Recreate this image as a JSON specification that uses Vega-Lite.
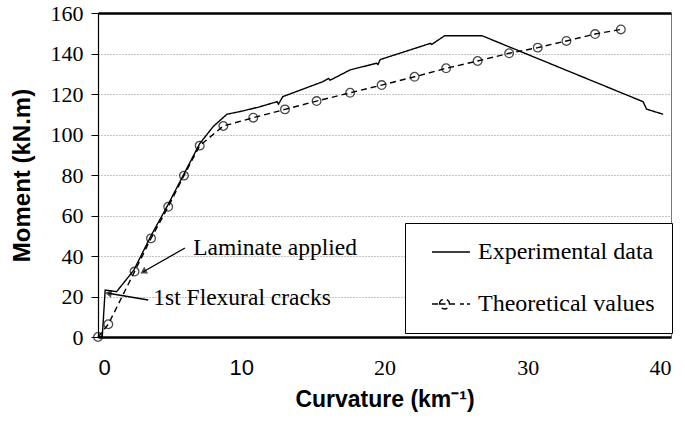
{
  "$schema": "https://vega.github.io/schema/vega-lite/v6.json",
  "width": 573,
  "height": 324,
  "autosize": "none",
  "padding": {"left": 98, "top": 13, "right": 14, "bottom": 91},
  "config": {
    "view": {"stroke": "#777", "strokeWidth": 1},
    "font": "Liberation Sans"
  },
  "datasets": {
    "curves": [
      {"series": "Experimental data", "i": 0, "curvature": 0, "moment": 0},
      {"series": "Experimental data", "i": 1, "curvature": 0.3, "moment": 0.5},
      {"series": "Experimental data", "i": 2, "curvature": 0.5, "moment": 23.2},
      {"series": "Experimental data", "i": 3, "curvature": 1.3, "moment": 22.4},
      {"series": "Experimental data", "i": 4, "curvature": 2.5, "moment": 33},
      {"series": "Experimental data", "i": 5, "curvature": 3.7, "moment": 50},
      {"series": "Experimental data", "i": 6, "curvature": 4.9, "moment": 65.5},
      {"series": "Experimental data", "i": 7, "curvature": 6.0, "moment": 80.5},
      {"series": "Experimental data", "i": 8, "curvature": 7.1, "moment": 95.5},
      {"series": "Experimental data", "i": 9, "curvature": 8.05, "moment": 104},
      {"series": "Experimental data", "i": 10, "curvature": 9.0, "moment": 110},
      {"series": "Experimental data", "i": 11, "curvature": 9.9, "moment": 111.3},
      {"series": "Experimental data", "i": 12, "curvature": 11.2, "moment": 113.5},
      {"series": "Experimental data", "i": 13, "curvature": 12.5, "moment": 116.2},
      {"series": "Experimental data", "i": 14, "curvature": 12.6, "moment": 115},
      {"series": "Experimental data", "i": 15, "curvature": 12.9, "moment": 118.7},
      {"series": "Experimental data", "i": 16, "curvature": 15.7, "moment": 126.1},
      {"series": "Experimental data", "i": 17, "curvature": 16.1, "moment": 127.7},
      {"series": "Experimental data", "i": 18, "curvature": 16.2, "moment": 126.8},
      {"series": "Experimental data", "i": 19, "curvature": 17.6, "moment": 131.9},
      {"series": "Experimental data", "i": 20, "curvature": 19.45, "moment": 135.2},
      {"series": "Experimental data", "i": 21, "curvature": 19.55, "moment": 134.6},
      {"series": "Experimental data", "i": 22, "curvature": 19.7, "moment": 137},
      {"series": "Experimental data", "i": 23, "curvature": 23.2, "moment": 145},
      {"series": "Experimental data", "i": 24, "curvature": 23.3, "moment": 144.5},
      {"series": "Experimental data", "i": 25, "curvature": 24.2, "moment": 148.8},
      {"series": "Experimental data", "i": 26, "curvature": 26.8, "moment": 148.8},
      {"series": "Experimental data", "i": 27, "curvature": 38.05, "moment": 116.2},
      {"series": "Experimental data", "i": 28, "curvature": 38.3, "moment": 112.5},
      {"series": "Experimental data", "i": 29, "curvature": 39.45, "moment": 110},
      {"series": "Theoretical values", "i": 0, "curvature": 0, "moment": 0},
      {"series": "Theoretical values", "i": 1, "curvature": 0.72, "moment": 6.3},
      {"series": "Theoretical values", "i": 2, "curvature": 2.55, "moment": 32.3},
      {"series": "Theoretical values", "i": 3, "curvature": 3.7, "moment": 48.7},
      {"series": "Theoretical values", "i": 4, "curvature": 4.9, "moment": 64.3},
      {"series": "Theoretical values", "i": 5, "curvature": 6.0, "moment": 79.7},
      {"series": "Theoretical values", "i": 6, "curvature": 7.1, "moment": 94.5},
      {"series": "Theoretical values", "i": 7, "curvature": 8.75, "moment": 104.2},
      {"series": "Theoretical values", "i": 8, "curvature": 10.84, "moment": 108.3},
      {"series": "Theoretical values", "i": 9, "curvature": 13.05, "moment": 112.4},
      {"series": "Theoretical values", "i": 10, "curvature": 15.26, "moment": 116.5},
      {"series": "Theoretical values", "i": 11, "curvature": 17.6, "moment": 120.6},
      {"series": "Theoretical values", "i": 12, "curvature": 19.8, "moment": 124.4},
      {"series": "Theoretical values", "i": 13, "curvature": 22.1, "moment": 128.5},
      {"series": "Theoretical values", "i": 14, "curvature": 24.3, "moment": 132.7},
      {"series": "Theoretical values", "i": 15, "curvature": 26.5, "moment": 136.3},
      {"series": "Theoretical values", "i": 16, "curvature": 28.7, "moment": 140.1},
      {"series": "Theoretical values", "i": 17, "curvature": 30.7, "moment": 142.9},
      {"series": "Theoretical values", "i": 18, "curvature": 32.7, "moment": 146.2},
      {"series": "Theoretical values", "i": 19, "curvature": 34.7, "moment": 149.6},
      {"series": "Theoretical values", "i": 20, "curvature": 36.5, "moment": 151.9}
    ],
    "arrows": [
      {"label": "laminate", "x1": 6.07, "y1": 43.95, "x2": 3.16, "y2": 32.2},
      {"label": "cracks", "x1": 3.51, "y1": 18.27, "x2": 0.72, "y2": 21.6}
    ],
    "notes": [
      {"text": "Laminate applied", "curvature": 6.65, "moment": 43.8},
      {"text": "1st Flexural cracks", "curvature": 3.86, "moment": 19.1}
    ]
  },
  "layer": [
    {
      "data": {"name": "curves"},
      "mark": {"type": "line", "color": "black", "strokeWidth": 1.4},
      "encoding": {
        "x": {
          "field": "curvature", "type": "quantitative",
          "scale": {"domain": [0, 40], "nice": false, "zero": false},
          "axis": {
            "values": [0, 10, 20, 30, 40],
            "grid": false,
            "ticks": false,
            "domainColor": "black",
            "domainWidth": 2.5,
            "labelFont": {"expr": "datum.value >= 20 ? 'Liberation Serif' : 'Liberation Sans'"},
            "labelFontSize": 22,
            "labelColor": "black",
            "labelPadding": 20,
            "title": "Curvature (km⁻¹)",
            "titleFont": "Liberation Sans",
            "titleFontSize": 23,
            "titleFontWeight": "bold",
            "titleColor": "black",
            "titlePadding": 10
          }
        },
        "y": {
          "field": "moment", "type": "quantitative",
          "scale": {"domain": [0, 160], "nice": false},
          "axis": {
            "values": [0, 20, 40, 60, 80, 100, 120, 140, 160],
            "grid": true,
            "gridColor": {"condition": {"test": "datum.value === 160", "value": "black"}, "value": "#888"},
            "gridWidth": {"condition": {"test": "datum.value === 160", "value": 2.5}, "value": 1},
            "gridDash": {"condition": {"test": "datum.value === 160", "value": []}, "value": [1, 2]},
            "domainColor": "black",
            "domainWidth": 1.2,
            "tickColor": "black",
            "tickSize": 7,
            "labelFont": "Liberation Serif",
            "labelFontSize": 22,
            "labelColor": "black",
            "labelPadding": 8,
            "title": "Moment (kN.m)",
            "titleFont": "Liberation Sans",
            "titleFontSize": 24,
            "titleFontWeight": "bold",
            "titleColor": "black",
            "titlePadding": 16
          }
        },
        "order": {"field": "i", "type": "quantitative"},
        "detail": {"field": "series"},
        "strokeDash": {
          "field": "series", "type": "nominal",
          "scale": {"domain": ["Experimental data", "Theoretical values"], "range": [[1, 0], [6, 4]]},
          "legend": {
            "title": null,
            "orient": "none",
            "legendX": 307,
            "legendY": 210,
            "direction": "vertical",
            "fillColor": "white",
            "strokeColor": "black",
            "padding": 17,
            "symbolOffset": 8,
            "symbolSize": 400,
            "symbolStrokeColor": "black",
            "symbolStrokeWidth": 1.4,
            "labelFont": "Liberation Serif",
            "labelFontSize": 24,
            "labelColor": "black",
            "labelOffset": 24,
            "labelLimit": 300,
            "rowPadding": 28,
            "encode": {
              "symbols": {
                "update": {
                  "shape": {"signal": "datum.value === 'Theoretical values' ? 'M-1,0H-0.25M-0.25,0A0.5,0.5 0 1,1 0.75,0A0.5,0.5 0 1,1 -0.25,0M-0.25,0H0.75M0.75,0H1.3M1.8,0H2.2M2.5,0H2.8' : 'M-1,0H2.8'"},
                  "strokeDash": {"value": [1, 0]},
                  "fill": {"value": "transparent"},
                  "stroke": {"value": "black"}
                }
              }
            }
          }
        }
      }
    },
    {
      "data": {"name": "curves"},
      "transform": [{"filter": "datum.series === 'Theoretical values'"}],
      "mark": {"type": "point", "shape": "circle", "filled": false, "size": 75, "stroke": "black", "strokeWidth": 1.3},
      "encoding": {
        "x": {"field": "curvature", "type": "quantitative"},
        "y": {"field": "moment", "type": "quantitative"}
      }
    },
    {
      "data": {"name": "arrows"},
      "mark": {"type": "rule", "color": "black", "strokeWidth": 1.3},
      "encoding": {
        "x": {"field": "x1", "type": "quantitative"},
        "y": {"field": "y1", "type": "quantitative"},
        "x2": {"field": "x2"},
        "y2": {"field": "y2"}
      }
    },
    {
      "data": {"name": "arrows"},
      "mark": {"type": "point", "shape": "triangle-up", "filled": true, "color": "black", "size": 60},
      "encoding": {
        "x": {"field": "x2", "type": "quantitative"},
        "y": {"field": "y2", "type": "quantitative"},
        "angle": {"condition": {"test": "datum.label === 'laminate'", "value": 240}, "value": 280}
      }
    },
    {
      "data": {"name": "notes"},
      "mark": {"type": "text", "align": "left", "baseline": "middle", "font": "Liberation Serif", "fontSize": 23.5, "color": "black"},
      "encoding": {
        "x": {"field": "curvature", "type": "quantitative"},
        "y": {"field": "moment", "type": "quantitative"},
        "text": {"field": "text"}
      }
    }
  ]
}
